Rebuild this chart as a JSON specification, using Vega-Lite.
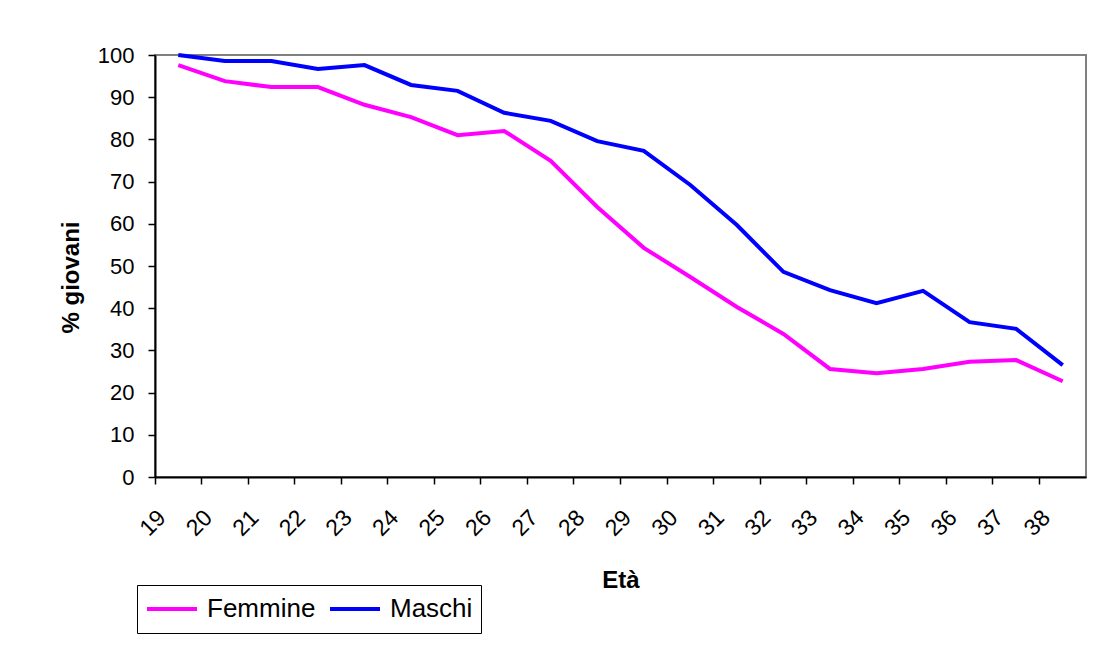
{
  "$schema": "https://vega.github.io/schema/vega-lite/v6.json",
  "autosize": {"type": "none"},
  "width": 931,
  "height": 422,
  "padding": {"left": 155, "top": 55, "right": 7, "bottom": 180},
  "background": "white",
  "config": {
    "font": "Liberation Sans",
    "view": {"stroke": "#808080", "strokeWidth": 2}
  },
  "data": {
    "values": [
      {"eta": "19", "sesso": "Femmine", "pct": 97.6}, {"eta": "19", "sesso": "Maschi", "pct": 100},
      {"eta": "20", "sesso": "Femmine", "pct": 93.8}, {"eta": "20", "sesso": "Maschi", "pct": 98.6},
      {"eta": "21", "sesso": "Femmine", "pct": 92.4}, {"eta": "21", "sesso": "Maschi", "pct": 98.6},
      {"eta": "22", "sesso": "Femmine", "pct": 92.4}, {"eta": "22", "sesso": "Maschi", "pct": 96.7},
      {"eta": "23", "sesso": "Femmine", "pct": 88.2}, {"eta": "23", "sesso": "Maschi", "pct": 97.6},
      {"eta": "24", "sesso": "Femmine", "pct": 85.3}, {"eta": "24", "sesso": "Maschi", "pct": 92.9},
      {"eta": "25", "sesso": "Femmine", "pct": 81.0}, {"eta": "25", "sesso": "Maschi", "pct": 91.5},
      {"eta": "26", "sesso": "Femmine", "pct": 82.0}, {"eta": "26", "sesso": "Maschi", "pct": 86.3},
      {"eta": "27", "sesso": "Femmine", "pct": 74.9}, {"eta": "27", "sesso": "Maschi", "pct": 84.4},
      {"eta": "28", "sesso": "Femmine", "pct": 64.0}, {"eta": "28", "sesso": "Maschi", "pct": 79.6},
      {"eta": "29", "sesso": "Femmine", "pct": 54.3}, {"eta": "29", "sesso": "Maschi", "pct": 77.3},
      {"eta": "30", "sesso": "Femmine", "pct": 47.4}, {"eta": "30", "sesso": "Maschi", "pct": 69.2},
      {"eta": "31", "sesso": "Femmine", "pct": 40.3}, {"eta": "31", "sesso": "Maschi", "pct": 59.7},
      {"eta": "32", "sesso": "Femmine", "pct": 33.9}, {"eta": "32", "sesso": "Maschi", "pct": 48.6},
      {"eta": "33", "sesso": "Femmine", "pct": 25.6}, {"eta": "33", "sesso": "Maschi", "pct": 44.3},
      {"eta": "34", "sesso": "Femmine", "pct": 24.6}, {"eta": "34", "sesso": "Maschi", "pct": 41.2},
      {"eta": "35", "sesso": "Femmine", "pct": 25.6}, {"eta": "35", "sesso": "Maschi", "pct": 44.1},
      {"eta": "36", "sesso": "Femmine", "pct": 27.3}, {"eta": "36", "sesso": "Maschi", "pct": 36.7},
      {"eta": "37", "sesso": "Femmine", "pct": 27.7}, {"eta": "37", "sesso": "Maschi", "pct": 35.1},
      {"eta": "38", "sesso": "Femmine", "pct": 22.7}, {"eta": "38", "sesso": "Maschi", "pct": 26.5}
    ]
  },
  "mark": {"type": "line", "strokeWidth": 4},
  "encoding": {
    "x": {
      "field": "eta",
      "type": "ordinal",
      "scale": {"type": "band", "paddingInner": 0, "paddingOuter": 0},
      "axis": {
        "title": "Età",
        "titleFont": "Liberation Sans",
        "titleFontSize": 24,
        "titleFontWeight": "bold",
        "titleColor": "black",
        "titlePadding": 28,
        "bandPosition": 0,
        "labelAngle": -45,
        "labelAlign": "right",
        "labelBaseline": "top",
        "labelFontSize": 23,
        "labelColor": "black",
        "labelPadding": 22,
        "labelOffset": -24,
        "domainColor": "black",
        "domainWidth": 2,
        "tickColor": "black",
        "tickSize": 7,
        "tickWidth": 1.5,
        "grid": false
      }
    },
    "y": {
      "field": "pct",
      "type": "quantitative",
      "scale": {"domain": [0, 100], "nice": false},
      "axis": {
        "title": "% giovani",
        "titleFont": "Liberation Sans",
        "titleFontSize": 24,
        "titleFontWeight": "bold",
        "titleColor": "black",
        "titlePadding": 14,
        "titleY": 222,
        "values": [0, 10, 20, 30, 40, 50, 60, 70, 80, 90, 100],
        "labelFontSize": 22,
        "labelColor": "black",
        "labelPadding": 14,
        "domainColor": "black",
        "domainWidth": 2,
        "tickColor": "black",
        "tickSize": 7,
        "tickWidth": 1.5,
        "grid": false
      }
    },
    "color": {
      "field": "sesso",
      "type": "nominal",
      "scale": {"domain": ["Femmine", "Maschi"], "range": ["#FF00FF", "#0000FF"]},
      "legend": {
        "title": null,
        "orient": "none",
        "legendX": -18,
        "legendY": 530,
        "direction": "horizontal",
        "strokeColor": "black",
        "padding": 8,
        "clipHeight": 32,
        "symbolType": "stroke",
        "symbolSize": 2500,
        "symbolStrokeWidth": 4,
        "labelFontSize": 26,
        "labelColor": "black",
        "labelFont": "Liberation Sans",
        "columnPadding": 12,
        "labelOffset": 8
      }
    }
  }
}
